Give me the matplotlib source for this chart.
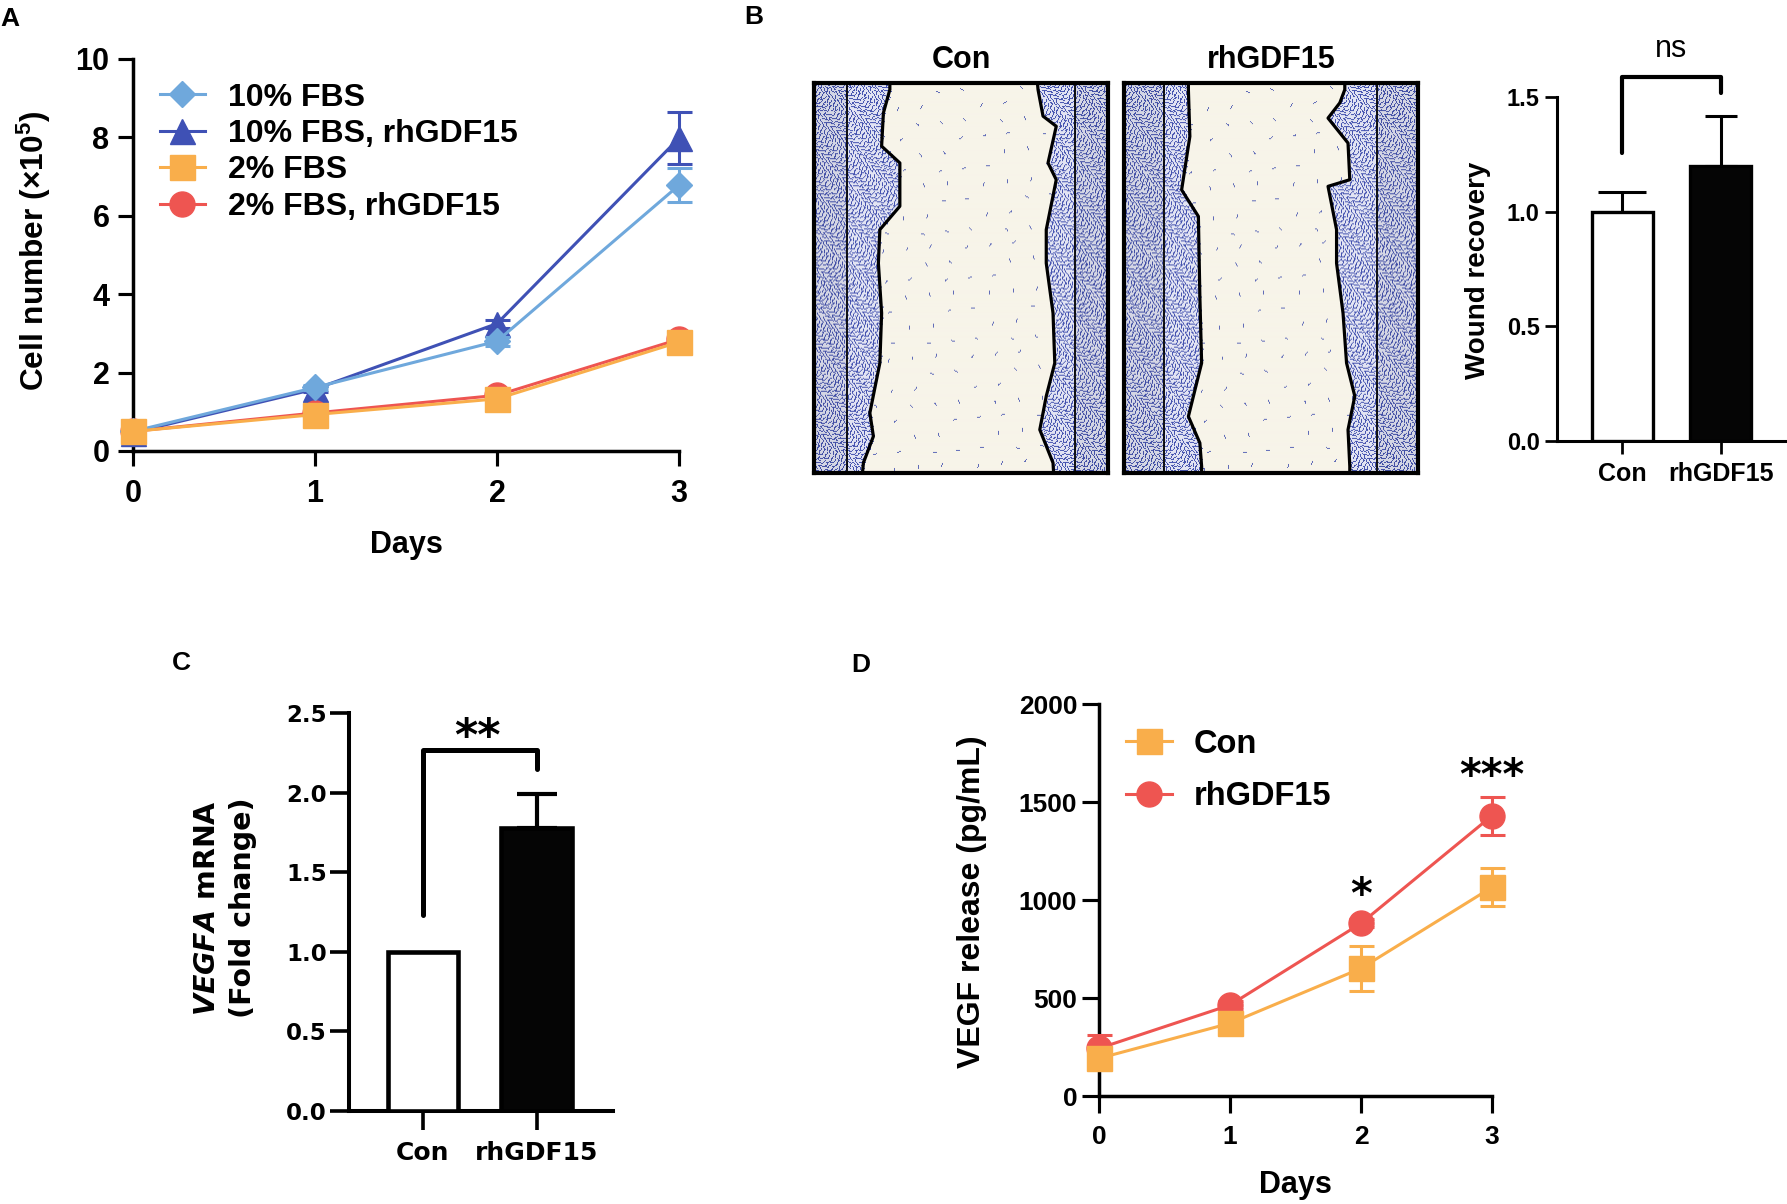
import numpy as np
import matplotlib
matplotlib.use('Agg')
import matplotlib.pyplot as plt

# ---- data ----
days = [0, 1, 2, 3]

# A: cell number (x10^5)
fbs10_mean = [0.50, 1.62, 2.80, 6.78]
fbs10_sd = [0.04, 0.06, 0.12, 0.44]
fbs10_gdf_mean = [0.47, 1.58, 3.25, 7.98]
fbs10_gdf_sd = [0.04, 0.08, 0.10, 0.66]
fbs2_mean = [0.50, 0.93, 1.33, 2.78]
fbs2_sd = [0.05, 0.08, 0.12, 0.20]
fbs2_gdf_mean = [0.50, 0.97, 1.42, 2.85]
fbs2_gdf_sd = [0.04, 0.06, 0.10, 0.15]
labels_a = ['10% FBS', '10% FBS, rhGDF15', '2% FBS', '2% FBS, rhGDF15']

# B: wound recovery
groups = ['Con', 'rhGDF15']
wound_mean = [1.0, 1.2]
wound_sd = [0.087, 0.217]
bracket_b = [1.256, 1.587, 1.517]

# wound edges traced on the photos (fraction of width, fraction of height from top)
con_left_x = [0.258, 0.258, 0.236, 0.230, 0.292, 0.292, 0.224, 0.219, 0.230, 0.224, 0.190, 0.202, 0.168, 0.165]
con_left_y = [0.0, 0.017, 0.077, 0.162, 0.205, 0.316, 0.376, 0.462, 0.590, 0.718, 0.846, 0.906, 0.974, 1.0]
con_right_x = [0.760, 0.762, 0.779, 0.824, 0.796, 0.824, 0.790, 0.790, 0.813, 0.819, 0.790, 0.768, 0.813, 0.815]
con_right_y = [0.0, 0.017, 0.085, 0.111, 0.205, 0.248, 0.376, 0.462, 0.590, 0.718, 0.803, 0.889, 0.974, 1.0]
con_inner = [0.112, 0.888]
gdf_left_x = [0.219, 0.219, 0.224, 0.196, 0.253, 0.258, 0.264, 0.219, 0.258, 0.264, 0.264]
gdf_left_y = [0.0, 0.017, 0.137, 0.274, 0.342, 0.547, 0.718, 0.855, 0.923, 0.983, 1.0]
gdf_right_x = [0.751, 0.751, 0.734, 0.694, 0.762, 0.768, 0.694, 0.723, 0.723, 0.745, 0.757, 0.785, 0.762, 0.768, 0.768]
gdf_right_y = [0.0, 0.017, 0.051, 0.090, 0.154, 0.248, 0.265, 0.376, 0.462, 0.590, 0.718, 0.803, 0.889, 0.983, 1.0]
gdf_inner = [0.136, 0.861]

# C: VEGFA mRNA
vegfa_mean = [1.0, 1.78]
vegfa_sd = [0.0, 0.21]
bracket_c = [1.23, 2.27, 2.15]

# D: VEGF release (pg/mL)
vegf_con_mean = [192, 371, 651, 1065]
vegf_con_sd = [50, 25, 115, 97]
vegf_gdf_mean = [243, 464, 881, 1430]
vegf_gdf_sd = [68, 20, 20, 96]
stars_d = [(2, '*'), (3, '***')]

light_blue = '#6FA8DC'
dark_blue = '#3F51B5'
orange = '#F9AE4B'
red = '#EE5551'

W, H = 1787, 1204
plt.rcParams['font.family'] = ['Liberation Sans', 'DejaVu Sans']
plt.rcParams['font.weight'] = 'bold'
plt.rcParams['axes.labelweight'] = 'bold'
plt.rcParams['mathtext.fontset'] = 'custom'
plt.rcParams['mathtext.default'] = 'regular'
plt.rcParams['mathtext.bfit'] = 'DejaVu Sans:italic:bold'

fig = plt.figure(figsize=(W / 100, H / 100), dpi=100)


def px_axes(l, r, t, b):
    return fig.add_axes([l / W, 1 - b / H, (r - l) / W, (b - t) / H])


def prism(ax, lw, tlen, xpad, ypad, size):
    for s in ('top', 'right'):
        ax.spines[s].set_visible(False)
    for s in ('left', 'bottom'):
        ax.spines[s].set_linewidth(lw)
    ax.tick_params(length=tlen, width=lw * 0.9, labelsize=size)
    ax.tick_params(axis='x', pad=xpad)
    ax.tick_params(axis='y', pad=ypad)


def place_label(axis, x, y):
    lab = axis.label
    lab.set_verticalalignment('center')
    lab.set_horizontalalignment('center')
    lab.set_rotation_mode('default')
    axis.set_label_coords(x, y)


def err_line(ax, y, sd, color, marker, ms, z):
    eb = ax.errorbar(days, y, yerr=sd, color=color, marker=marker, ms=ms, lw=2.2,
                     capsize=9, capthick=2.2, elinewidth=2.2, zorder=z)
    for art in eb.get_children():
        art.set_clip_on(False)
    return eb.lines[0]


# ---------------- A ----------------
axA = px_axes(133, 679, 59, 451)
h_dark = err_line(axA, fbs10_gdf_mean, fbs10_gdf_sd, dark_blue, '^', 18, 3)
h_light = err_line(axA, fbs10_mean, fbs10_sd, light_blue, 'D', 13, 4)
h_red = err_line(axA, fbs2_gdf_mean, fbs2_gdf_sd, red, 'o', 18, 3)
h_orange = err_line(axA, fbs2_mean, fbs2_sd, orange, 's', 18, 4)
axA.set_xlim(0, 3)
axA.set_ylim(0, 10)
axA.set_xticks(days)
axA.set_yticks(range(0, 11, 2))
prism(axA, 2.5, 11, 9, 6, 22)
axA.set_xlabel('Days', fontsize=22)
axA.set_ylabel('Cell number (×10$^5$)', fontsize=22.8)
place_label(axA.yaxis, -0.181, 0.51)
place_label(axA.xaxis, 0.5, -0.24)
axA.legend([h_light, h_dark, h_orange, h_red], labels_a, loc='upper left',
           bbox_to_anchor=(0.049, 0.94), frameon=False, fontsize=23,
           handlelength=1.42, handletextpad=0.72, labelspacing=0.2,
           borderpad=0, borderaxespad=0)


# ---------------- B photos ----------------
def stamp(img, cx, cy, ang, color, nrow, ncol):
    for t in (-1.5, -0.5, 0.5, 1.5):
        c = np.clip(np.round(cx + t * np.cos(ang)).astype(int), 0, ncol - 1)
        r = np.clip(np.round(cy + t * np.sin(ang)).astype(int), 0, nrow - 1)
        img[r, c] = color


def scratch(lx, ly, rx, ry, inner, nrow=390, ncol=294, ncell=10000, nstray=220):
    yy, xx = np.mgrid[0:nrow, 0:ncol].astype(float)
    v = np.linspace(0, 1, nrow)
    le = np.interp(v, ly, lx)[:, None] * ncol
    re = np.interp(v, ry, rx)[:, None] * ncol
    wound = (xx > le) & (xx < re)
    pale = np.array([226, 228, 243]) / 255
    cream = np.array([247, 244, 233]) / 255
    cell = np.array([70, 84, 176]) / 255
    img = np.where(wound[..., None], cream, pale)
    # quasi-uniform (R2 sequence) placement of small elongated stained cells
    k = np.arange(1, ncell + 1)
    cx = ((0.5 + k * 0.7548776662) % 1) * ncol
    cy = ((0.5 + k * 0.5698402910) % 1) * nrow
    ang = ((0.2 + k * 0.4142135624) % 1) * np.pi
    keep = ~wound[np.clip(cy.astype(int), 0, nrow - 1), np.clip(cx.astype(int), 0, ncol - 1)]
    stamp(img, cx[keep], cy[keep], ang[keep], cell, nrow, ncol)
    # a few stray cells inside the wound
    m = np.arange(1, nstray + 1)
    sx = ((0.13 + m * 0.7548776662) % 1) * ncol
    sy = ((0.71 + m * 0.5698402910) % 1) * nrow
    sa = ((0.5 + m * 0.7320508) % 1) * np.pi
    inw = wound[np.clip(sy.astype(int), 0, nrow - 1), np.clip(sx.astype(int), 0, ncol - 1)]
    stamp(img, sx[inw], sy[inw], sa[inw], cell * 0.85 + cream * 0.15, nrow, ncol)
    outer = ((xx < inner[0] * ncol) | (xx > inner[1] * ncol))[..., None]
    img = np.where(outer, img * 0.94, img)
    return np.clip(img, 0, 1)


for (l, r), lx, ly, rx, ry, inner, title in [
        ((814, 1108), con_left_x, con_left_y, con_right_x, con_right_y, con_inner, 'Con'),
        ((1124, 1418), gdf_left_x, gdf_left_y, gdf_right_x, gdf_right_y, gdf_inner, 'rhGDF15')]:
    axI = px_axes(l, r, 83, 473)
    axI.imshow(scratch(lx, ly, rx, ry, inner), extent=[0, 1, 1, 0], aspect='auto', interpolation='bilinear')
    axI.plot(lx, ly, color='black', lw=2.3)
    axI.plot(rx, ry, color='black', lw=2.3)
    for xi in inner:
        axI.axvline(xi, color='black', lw=1.3)
    axI.set_xlim(0, 1)
    axI.set_ylim(1, 0)
    axI.set_xticks([])
    axI.set_yticks([])
    for s in axI.spines.values():
        s.set_linewidth(3)
    fig.text((l + r) / 2 / W, 1 - 68 / H, title, ha='center', va='baseline', fontsize=22)

# ---------------- B bars ----------------
axB = px_axes(1557, 1787, 97, 441)
xb = np.arange(len(groups))
axB.bar(xb, wound_mean, width=0.62, color=['white', '#050505'], edgecolor='black', linewidth=2.4, zorder=3)
for xi, m, s, cs in zip(xb, wound_mean, wound_sd, [17, 11.5]):
    axB.errorbar([xi], [m], yerr=[[0], [s]], fmt='none', ecolor='black', elinewidth=2.2,
                 capsize=cs, capthick=2.2, zorder=2)
axB.set_xlim(-0.66, 1.67)
axB.set_ylim(0, 1.5)
axB.set_xticks(xb)
axB.set_xticklabels(groups)
axB.set_yticks([0, 0.5, 1.0, 1.5])
axB.set_yticklabels(['0.0', '0.5', '1.0', '1.5'])
prism(axB, 2.2, 9, 6, 3.5, 17)
axB.tick_params(axis='x', labelsize=18)
axB.set_ylabel('Wound recovery', fontsize=20)
place_label(axB.yaxis, -0.343, 0.497)
axB.plot([0, 0, 1, 1], [bracket_b[0], bracket_b[1], bracket_b[1], bracket_b[2]], color='black',
         lw=3, solid_capstyle='round', clip_on=False)
axB.text(0.5, 1.676, 'ns', ha='center', va='baseline', fontsize=22, fontweight='normal')

# ---------------- C ----------------
axC = px_axes(349, 613, 713, 1111)
xc = np.arange(len(groups))
axC.bar(xc, vegfa_mean, width=0.62, color=['white', '#050505'], edgecolor='black', linewidth=3.3, zorder=3)
for xi, m, s in zip(xc, vegfa_mean, vegfa_sd):
    if s > 0:
        axC.errorbar([xi], [m], yerr=[[0], [s]], fmt='none', ecolor='black', elinewidth=3,
                     capsize=14.5, capthick=3, zorder=2)
axC.set_xlim(-0.65, 1.67)
axC.set_ylim(0, 2.5)
axC.set_xticks(xc)
axC.set_xticklabels(groups)
axC.set_yticks([0, 0.5, 1.0, 1.5, 2.0, 2.5])
axC.set_yticklabels(['0.0', '0.5', '1.0', '1.5', '2.0', '2.5'])
prism(axC, 2.9, 13.5, 8, 2.5, 16.5)
for lab in axC.get_xticklabels() + axC.get_yticklabels():
    lab.set_family('DejaVu Sans')
axC.tick_params(axis='x', labelsize=18)
axC.set_ylabel('$\\mathbfit{VEGFA}$ mRNA\n(Fold change)', fontsize=20.5, family='DejaVu Sans',
               linespacing=1.4)
place_label(axC.yaxis, -0.47, 0.51)
axC.plot([0, 0, 1, 1], [bracket_c[0], bracket_c[1], bracket_c[1], bracket_c[2]], color='black',
         lw=3.6, solid_capstyle='round', clip_on=False)
axC.text(0.48, 2.27, '**', ha='center', va='baseline', fontsize=32, family='DejaVu Sans')

# ---------------- D ----------------
axD = px_axes(1099, 1492, 704, 1096)
h_con = err_line(axD, vegf_con_mean, vegf_con_sd, orange, 's', 18, 4)
h_gdf = err_line(axD, vegf_gdf_mean, vegf_gdf_sd, red, 'o', 18, 3)
axD.set_xlim(0, 3)
axD.set_ylim(0, 2000)
axD.set_xticks(days)
axD.set_yticks(range(0, 2001, 500))
prism(axD, 2.5, 12, 8.6, 3.6, 19)
axD.set_xlabel('Days', fontsize=22)
axD.set_ylabel('VEGF release (pg/mL)', fontsize=23)
place_label(axD.yaxis, -0.323, 0.495)
place_label(axD.xaxis, 0.5, -0.227)
axD.legend([h_con, h_gdf], groups, loc='upper left', bbox_to_anchor=(0.069, 0.937),
           frameon=False, fontsize=23.5, handlelength=1.4, handletextpad=0.68,
           labelspacing=0.66, borderpad=0, borderaxespad=0)
for xi, s in stars_d:
    top = vegf_gdf_mean[xi] + vegf_gdf_sd[xi]
    axD.text(xi, top + 40 if s == '***' else top + 56, s, ha='center', va='baseline',
             fontsize=30, family='DejaVu Sans')

# panel letters
for x, y, s in [(0, 26, 'A'), (744, 24, 'B'), (172, 670, 'C'), (851, 672, 'D')]:
    fig.text(x / W, 1 - y / H, s, fontsize=19, ha='left', va='baseline')

fig.savefig('out.png', dpi=100)
